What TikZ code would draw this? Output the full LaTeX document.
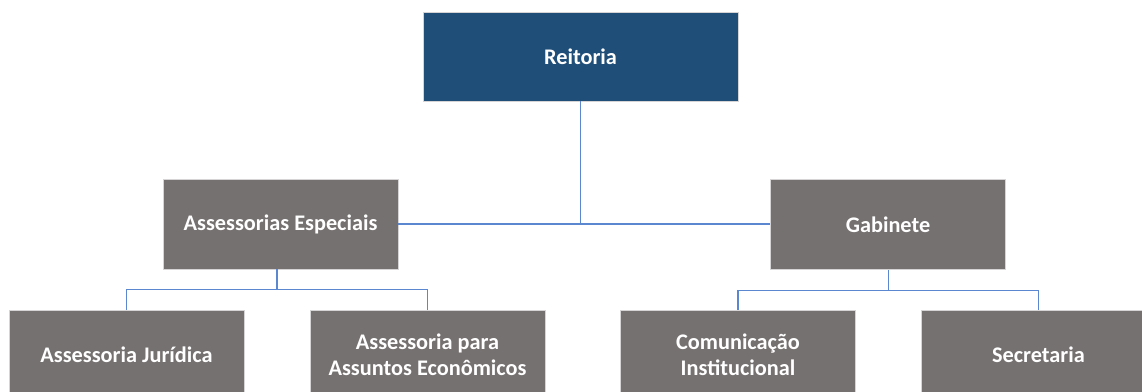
\documentclass[tikz,border=0pt]{standalone}
\usepackage{fontspec}
\setmainfont{Carlito}
\usetikzlibrary{calc}
\definecolor{topblue}{HTML}{1F4E79}
\definecolor{boxgray}{HTML}{767171}
\definecolor{linkblue}{HTML}{5B86D0}
\definecolor{edgegray}{HTML}{D6D4D4}
\tikzset{
  unitbox/.style={rectangle, fill=boxgray, draw=edgegray, line width=0.8pt,
    minimum width=235pt, minimum height=90pt, inner sep=0pt,
    text=white, font=\bfseries\fontsize{22.3}{25.5}\selectfont, align=center},
  topbox/.style={unitbox, fill=topblue, minimum width=315pt, minimum height=89pt},
  link/.style={draw=linkblue, line width=1.1pt}
}
\begin{document}
\begin{tikzpicture}[x=1pt, y=-1pt]
\clip (0,0) rectangle (1142,391);
\fill[white] (0,0) rectangle (1142,391);
\node[topbox] (rei) at (580.5,56.5) {Reitoria};
\node[unitbox] (esp) at (280.5,224) {Assessorias Especiais};
\node[unitbox] (gab) at (888,224.5) {Gabinete};
\node[unitbox] (jur) at (126.5,355) {Assessoria Jurídica};
\node[unitbox] (eco) at (427.5,355) {Assessoria para\\Assuntos Econômicos};
\node[unitbox] (com) at (738,355) {Comunicação\\Institucional};
\node[unitbox] (sec) at (1038.5,355) {Secretaria};
% top level
\draw[link] (esp.east) -- (esp.east -| gab.west);
\draw[link] (rei.south) -- (rei.south |- esp.east);
% left group
\coordinate (lj) at ($(jur.north)+(0,-20)$);
\coordinate (le) at ($(eco.north)+(0,-20)$);
\coordinate (lm) at ($(lj)!0.5!(le)$);
\draw[link] (jur.north) -- (lj) -- (le) -- (eco.north);
\draw[link] (lm) -- (lm |- esp.south);
% right group
\coordinate (rc) at ($(com.north)+(0,-19)$);
\coordinate (rs) at ($(sec.north)+(0,-19)$);
\coordinate (rm) at ($(rc)!0.5!(rs)$);
\draw[link] (com.north) -- (rc) -- (rs) -- (sec.north);
\draw[link] (rm) -- (rm |- gab.south);
\end{tikzpicture}
\end{document}
